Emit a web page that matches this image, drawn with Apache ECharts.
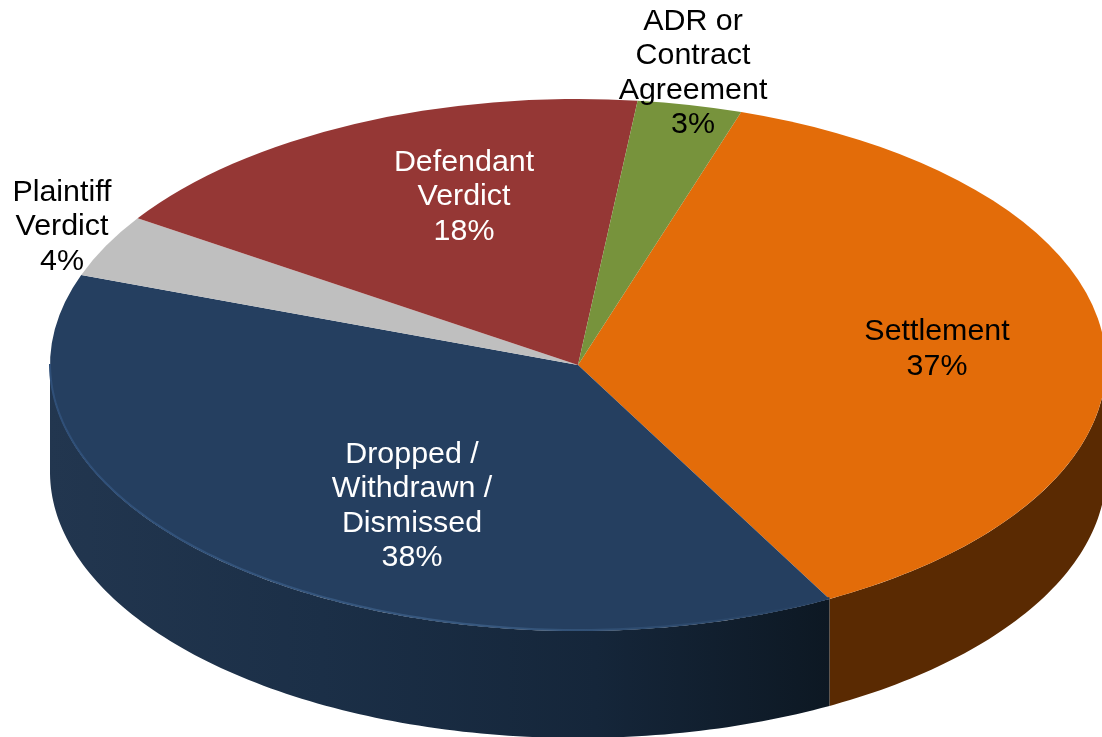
<!DOCTYPE html>
<html>
<head>
<meta charset="utf-8">
<title>Case outcomes</title>
<style>
  html, body { margin: 0; padding: 0; background: #fff; }
  #chart { width: 1102px; height: 737px; }
</style>
<script src="https://cdn.jsdelivr.net/npm/echarts@6/dist/echarts.min.js"></script>
</head>
<body>
<div id="chart"></div>
<script>
// slice order is clockwise, starting at the Settlement edge
const categories = ['Settlement', 'Dropped /\nWithdrawn /\nDismissed', 'Plaintiff\nVerdict', 'Defendant\nVerdict', 'ADR or\nContract\nAgreement'];
// shares in percent (they round to the printed labels)
const shares = [37.1, 38.4, 3.8, 17.5, 3.2];

const topColors = ['#e36c09', '#253f60', '#bfbfbf', '#953735', '#77933c'];
const textColors = ['#000', '#fff', '#000', '#fff', '#000'];
const labelCenters = [[937, 349], [412, 506], [62, 227], [464, 197], [693, 73]];

const CX = 578, CY = 365, RX = 528, RY = 266, DEPTH = 107;
const START = 18; // degrees clockwise from 12 o'clock

// start and end angle of every slice
const total = shares.reduce((a, b) => a + b, 0);
let acc = START;
const spans = shares.map(v => {
  const from = acc;
  acc += v / total * 360;
  return [from, acc];
});

function rimPoint (deg, dy) {
  const t = deg * Math.PI / 180;
  return [CX + RX * Math.sin(t), CY - RY * Math.cos(t) + dy];
}

function rimPoints (from, to, dy) {
  const pts = [];
  for (let d = from; d < to; d += 1) pts.push(rimPoint(d, dy));
  pts.push(rimPoint(to, dy));
  return pts;
}

function wallFill (i) {
  if (i === 0) return '#5a2a02';
  return new echarts.graphic.LinearGradient(0, 0, 1, 0, [
    { offset: 0, color: '#22364f' },
    { offset: 0.35, color: '#1b2f47' },
    { offset: 0.7, color: '#15263a' },
    { offset: 1, color: '#0d1823' }
  ]);
}

const chart = echarts.init(document.getElementById('chart'));
chart.setOption({
  backgroundColor: '#fff',
  animation: false,
  series: [
    {
      // side wall, only the part of the rim that faces the viewer
      type: 'custom',
      coordinateSystem: 'none',
      silent: true,
      data: shares,
      renderItem (params) {
        const from = Math.max(spans[params.dataIndex][0], 90);
        const to = Math.min(spans[params.dataIndex][1], 270);
        if (to <= from) return { type: 'group', children: [] };
        const points = rimPoints(from, to, 0).concat(rimPoints(from, to, DEPTH).reverse());
        return { type: 'polygon', shape: { points }, style: { fill: wallFill(params.dataIndex) } };
      }
    },
    {
      // top face, a normal sector squashed into an ellipse
      type: 'custom',
      coordinateSystem: 'none',
      silent: true,
      data: shares,
      renderItem (params) {
        const i = params.dataIndex;
        const children = [{
          type: 'sector',
          x: CX,
          y: CY,
          scaleY: RY / RX,
          shape: {
            cx: 0,
            cy: 0,
            r0: 0,
            r: RX,
            startAngle: (spans[i][0] - 90) * Math.PI / 180,
            endAngle: (spans[i][1] - 90) * Math.PI / 180,
            clockwise: true
          },
          style: { fill: topColors[i] }
        }];
        // soft bevel line along the front edge of the navy slice
        if (i === 1) {
          children.push({
            type: 'polyline',
            shape: { points: rimPoints(spans[i][0], 270, -1) },
            style: {
              fill: null,
              lineWidth: 2,
              stroke: new echarts.graphic.LinearGradient(0, 0, 1, 0, [
                { offset: 0, color: '#2f4f78' },
                { offset: 0.55, color: '#37587f' },
                { offset: 1, color: '#253f60' }
              ])
            }
          });
        }
        return { type: 'group', children };
      }
    },
    {
      type: 'custom',
      coordinateSystem: 'none',
      silent: true,
      data: shares,
      renderItem (params) {
        const i = params.dataIndex;
        return {
          type: 'text',
          x: labelCenters[i][0],
          y: labelCenters[i][1],
          style: {
            text: categories[i] + '\n' + Math.round(shares[i]) + '%',
            fill: textColors[i],
            fontFamily: '"Liberation Sans", Arial, sans-serif',
            fontSize: 30.4,
            lineHeight: 34.5,
            align: 'center',
            verticalAlign: 'middle'
          }
        };
      }
    }
  ]
});
</script>
</body>
</html>
